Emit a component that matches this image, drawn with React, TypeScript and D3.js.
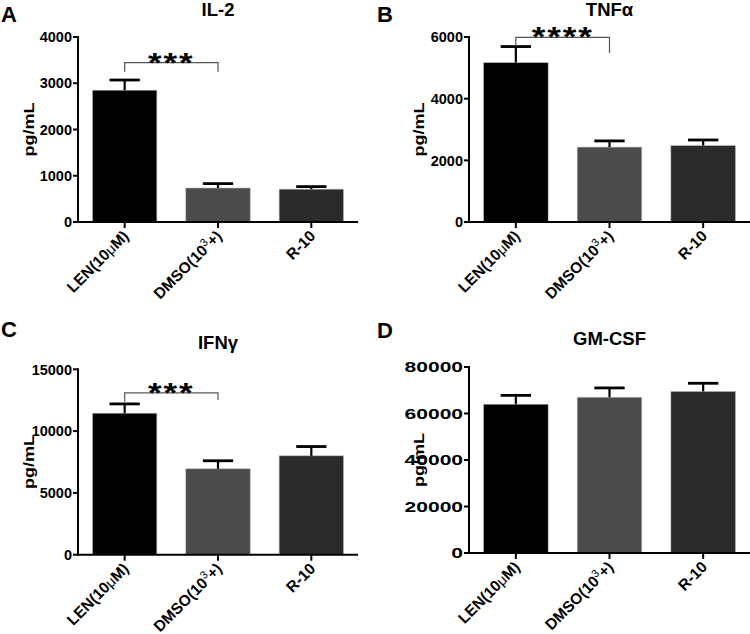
import React from "react";
import * as d3 from "d3";

const categories = ["LEN(10μM)", "DMSO(10³+)", "R-10"];
const barColors = ["#000000", "#4b4b4b", "#2b2b2b"];

const il2Mean = [2850, 735, 710];
const il2Sem = [220, 95, 55];
const il2Ticks = [0, 1000, 2000, 3000, 4000];

const tnfMean = [5170, 2430, 2480];
const tnfSem = [520, 200, 180];
const tnfTicks = [0, 2000, 4000, 6000];

const ifnMean = [11450, 6950, 8000];
const ifnSem = [750, 650, 750];
const ifnTicks = [0, 5000, 10000, 15000];

const gmMean = [64000, 67000, 69500];
const gmSem = [3800, 4000, 3500];
const gmTicks = [0, 20000, 40000, 60000, 80000];

// significance brackets: [bracket level, left end level, right end level]
const il2Bracket = [3444, 3250, 3250];
const tnfBracket = [5990, 5700, 5480];
const ifnBracket = [13100, 12380, 12520];

const FONT = "'Liberation Sans', Arial, Helvetica, sans-serif";

type PanelProps = {
  letter: string;
  title: string;
  means: number[];
  sems: number[];
  ticks: number[];
  bracket?: number[];
  stars?: string;
  x0: number;
  x1: number;
  yTop: number;
  yBot: number;
  titleY: number;
  letterX: number;
  letterY: number;
  ylabX: number;
  tickSX?: number;
};

const CAT_FS = 15.5;

function CatLabel({ name, x, y }: { name: string; x: number; y: number }) {
  const tf = `translate(${x},${y}) rotate(-45)`;
  if (name.includes("μ")) {
    const [a, b] = name.split("μ");
    return (
      <text transform={tf} textAnchor="end" fontSize={CAT_FS} fontWeight="bold">
        {a}
        <tspan fontWeight="normal" fontSize={CAT_FS - 1}>μ</tspan>
        {b}
      </text>
    );
  }
  if (name.includes("³")) {
    const [a, b] = name.split("³");
    return (
      <text transform={tf} textAnchor="end" fontSize={CAT_FS} fontWeight="bold">
        {a}
        <tspan fontSize={11} fontWeight="normal" dy={-6}>3</tspan>
        <tspan dy={6}>{b}</tspan>
      </text>
    );
  }
  return (
    <text transform={tf} textAnchor="end" fontSize={CAT_FS} fontWeight="bold">
      {name}
    </text>
  );
}

function Panel(p: PanelProps) {
  const x = d3
    .scaleBand<string>()
    .domain(categories)
    .range([p.x0, p.x1])
    .paddingInner(0.31)
    .paddingOuter(0.155);
  const y = d3
    .scaleLinear()
    .domain([0, p.ticks[p.ticks.length - 1]])
    .range([p.yBot, p.yTop]);
  const bw = x.bandwidth();
  const cx = (c: string) => (x(c) as number) + bw / 2;
  const midX = cx(categories[1]);
  const sx = p.tickSX ?? 1;
  return (
    <g>
      <text x={p.letterX} y={p.letterY} fontSize={22} fontWeight="bold">
        {p.letter}
      </text>
      <text x={midX} y={p.titleY} fontSize={18.5} fontWeight="bold" textAnchor="middle">
        {p.title}
      </text>
      {categories.map((c, i) => {
        const top = y(p.means[i]);
        const et = y(p.means[i] + p.sems[i]);
        return (
          <g key={c}>
            <rect
              x={x(c)}
              y={top}
              width={bw}
              height={p.yBot - top}
              fill={barColors[i]}
              stroke="#bbbbbb"
              strokeWidth={0.6}
            />
            <line x1={cx(c)} x2={cx(c)} y1={top} y2={et} stroke="#000" strokeWidth={2.2} />
            <line
              x1={cx(c) - bw * 0.235}
              x2={cx(c) + bw * 0.235}
              y1={et}
              y2={et}
              stroke="#000"
              strokeWidth={2.8}
            />
          </g>
        );
      })}
      {/* y axis */}
      <line x1={p.x0} x2={p.x0} y1={p.yTop - 1} y2={p.yBot + 1} stroke="#000" strokeWidth={2} />
      {p.ticks.map((t) => (
        <g key={t}>
          <line x1={p.x0 - 5} x2={p.x0} y1={y(t)} y2={y(t)} stroke="#000" strokeWidth={2} />
          <text
            transform={`translate(${p.x0 - 6},${y(t)}) scale(${sx},1)`}
            dy="0.36em"
            textAnchor="end"
            fontSize={14.5}
            fontWeight="bold"
          >
            {t}
          </text>
        </g>
      ))}
      <text
        transform={`translate(${p.ylabX},${(p.yTop + p.yBot) / 2}) rotate(-90) scale(1.2,1)`}
        textAnchor="middle"
        fontSize={15}
        fontWeight="bold"
      >
        pg/mL
      </text>
      {/* x axis */}
      <line x1={p.x0 - 1} x2={p.x1} y1={p.yBot} y2={p.yBot} stroke="#000" strokeWidth={2} />
      {categories.map((c) => (
        <g key={c}>
          <line x1={cx(c)} x2={cx(c)} y1={p.yBot} y2={p.yBot + 6} stroke="#000" strokeWidth={2} />
          <CatLabel name={c} x={cx(c) + 5} y={p.yBot + 15} />
        </g>
      ))}
      {p.bracket && (
        <g>
          <path
            d={`M${cx(categories[0])},${y(p.bracket[1])}V${y(p.bracket[0])}H${midX}V${y(
              p.bracket[2]
            )}`}
            fill="none"
            stroke="#555"
            strokeWidth={1.2}
          />
          <text
            transform={`translate(${(cx(categories[0]) + midX) / 2},${y(p.bracket[0]) + 9}) scale(1.25,1)`}
            textAnchor="middle"
            fontSize={28}
            fontWeight="bold"
            letterSpacing={1.5}
          >
            {p.stars}
          </text>
        </g>
      )}
    </g>
  );
}

export default function App() {
  return (
    <svg
      width={750}
      height={634}
      style={{ position: "absolute", left: 0, top: 0, background: "#fff" }}
      fontFamily={FONT}
    >
      <rect width={750} height={634} fill="#fff" />
      <Panel
        letter="A"
        title="IL-2"
        means={il2Mean}
        sems={il2Sem}
        ticks={il2Ticks}
        bracket={il2Bracket}
        stars="***"
        x0={78}
        x1={358}
        yTop={37}
        yBot={222}
        titleY={16}
        letterX={1}
        letterY={22}
        ylabX={34}
      />
      <Panel
        letter="B"
        title="TNFα"
        means={tnfMean}
        sems={tnfSem}
        ticks={tnfTicks}
        bracket={tnfBracket}
        stars="****"
        x0={469}
        x1={750}
        yTop={37}
        yBot={222}
        titleY={16}
        letterX={377}
        letterY={22}
        ylabX={423.5}
      />
      <Panel
        letter="C"
        title="IFNγ"
        means={ifnMean}
        sems={ifnSem}
        ticks={ifnTicks}
        bracket={ifnBracket}
        stars="***"
        x0={78}
        x1={358}
        yTop={369.3}
        yBot={554.7}
        titleY={349}
        letterX={1}
        letterY={337}
        ylabX={34}
      />
      <Panel
        letter="D"
        title="GM-CSF"
        means={gmMean}
        sems={gmSem}
        ticks={gmTicks}
        x0={469}
        x1={750}
        yTop={367}
        yBot={553}
        titleY={345}
        letterX={377}
        letterY={338}
        ylabX={423.5}
        tickSX={1.45}
      />
    </svg>
  );
}
